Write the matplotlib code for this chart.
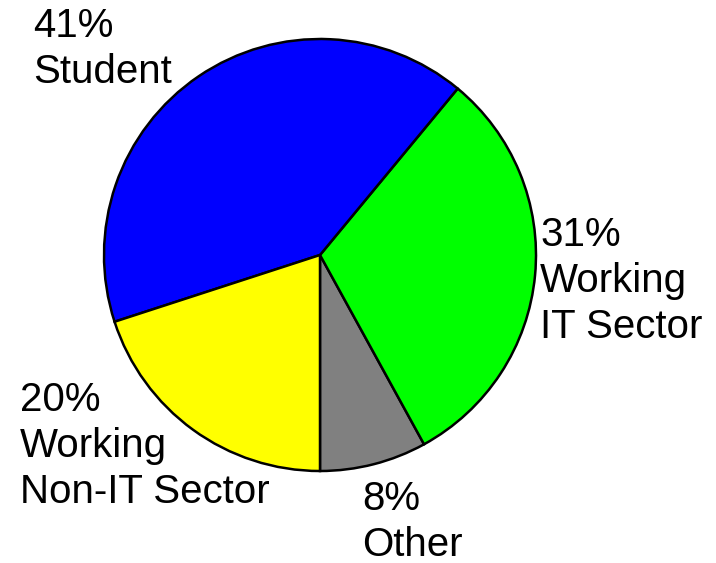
import matplotlib

matplotlib.use("Agg")
import matplotlib.pyplot as plt

# ── Data ──────────────────────────────────────────────────────────────
categories = ["Other", "Working\nIT Sector", "Student", "Working\nNon-IT Sector"]
shares = [8, 31, 41, 20]
colors = ["#808080", "#00ff00", "#0000ff", "#ffff00"]

# label anchor (left x, last-line baseline y) in pixel space, top-down
label_pos = {
    "Other": (362, 556),
    "Working\nIT Sector": (540, 338),
    "Student": (33, 83),
    "Working\nNon-IT Sector": (20, 503),
}

W, H = 716, 563
fig = plt.figure(figsize=(W / 100, H / 100), dpi=100)
ax = fig.add_axes([0, 0, 1, 1])

ax.pie(
    shares,
    colors=colors,
    startangle=270,
    counterclock=True,
    center=(320, H - 255),
    radius=216,
    wedgeprops=dict(edgecolor="black", linewidth=1.8),
    frame=True,
)
ax.set_xlim(0, W)
ax.set_ylim(0, H)
ax.set_aspect("equal")
ax.axis("off")

for cat, val in zip(categories, shares):
    x, y = label_pos[cat]
    ax.text(x, H - y, f"{val}%\n{cat}", fontsize=29, family="Liberation Sans",
            ha="left", va="baseline", linespacing=1.26)

fig.savefig("out.png", dpi=100)
